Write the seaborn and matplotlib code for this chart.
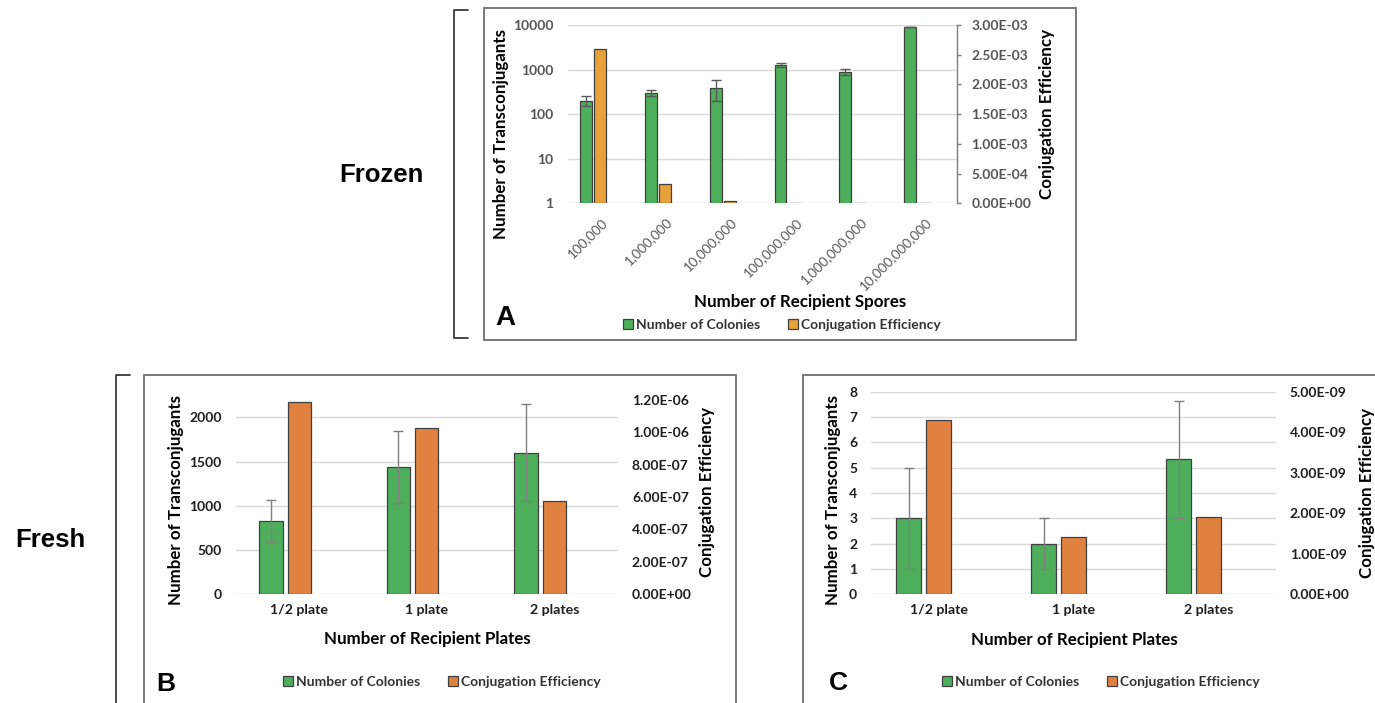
import numpy as np
import pandas as pd
import matplotlib
matplotlib.use("Agg")
import matplotlib.pyplot as plt
import matplotlib.transforms as mtransforms
from matplotlib.patches import Patch, Rectangle
from matplotlib.lines import Line2D
from matplotlib.ticker import FixedLocator, FuncFormatter, NullLocator
import seaborn as sns

sns.set_style("white")
plt.rcParams["font.family"] = ["Lato", "DejaVu Sans"]

# ---- Frozen spores (panel A) ----
spore_labels = ["100,000", "1,000,000", "10,000,000", "100,000,000",
                "1,000,000,000", "10,000,000,000"]
frozen_colonies = [200, 300, 390, 1270, 895, 8900]
frozen_colonies_sd = [50, 50, 195, 130, 140, 100]
frozen_efficiency = [2.59e-3, 3.3e-4, 3.9e-5, 1.27e-5, 9.0e-7, 8.9e-7]

# ---- Fresh spores, panel B ----
plate_labels = ["1/2 plate", "1 plate", "2 plates"]
fresh_b_colonies = [830, 1435, 1600]
fresh_b_colonies_sd = [240, 405, 550]
fresh_b_efficiency = [1.187e-6, 1.027e-6, 5.73e-7]

# ---- Fresh spores, panel C ----
fresh_c_colonies = [3.0, 2.0, 5.33]
fresh_c_colonies_sd = [2.0, 1.0, 2.32]
fresh_c_efficiency = [4.29e-9, 1.42e-9, 1.91e-9]

SERIES = ["Number of Colonies", "Conjugation Efficiency", "spacer"]
GREEN = "#4DAE5B"
ORANGE_A = "#E9A23B"
ORANGE_BC = "#E0813F"
EDGE = "#404040"
TITLE_SIZE = 12.2

W, H = 1375, 703
fig = plt.figure(figsize=(W / 100, H / 100), dpi=100)
fig.patch.set_facecolor("white")


def px_rect(x0, y0, x1, y1):
    """Pixel box measured from the top-left corner -> figure fraction rect."""
    return [x0 / W, 1 - y1 / H, (x1 - x0) / W, (y1 - y0) / H]


def sci(v, _pos=None):
    return f"{v:.2E}"


def draw_panel(rect, groups, colonies, colonies_sd, efficiency, orange,
               left_ticks, left_lim, right_ticks, right_lim, log=False,
               tick_color="#1e1e1e", err_color="#7f7f7f"):
    ax = fig.add_axes(rect)
    pal = {SERIES[0]: GREEN, SERIES[1]: orange, SERIES[2]: "white"}
    df_col = pd.DataFrame({"group": groups, "series": SERIES[0], "value": colonies})
    df_eff = pd.DataFrame({"group": groups, "series": SERIES[1], "value": efficiency})

    common = dict(x="group", y="value", hue="series", order=groups,
                  hue_order=SERIES, palette=pal, dodge=True, width=0.666,
                  gap=0.17, saturation=1, errorbar=None, edgecolor=EDGE,
                  linewidth=0.9, legend=False)
    sns.barplot(data=df_col, ax=ax, **common)
    xs = [p.get_x() + p.get_width() / 2 for p in ax.patches]
    ax.errorbar(xs, colonies, yerr=colonies_sd, fmt="none", ecolor=err_color,
                elinewidth=1.0, capsize=3.5, capthick=1.0, zorder=4)

    ax2 = ax.twinx()
    sns.barplot(data=df_eff, ax=ax2, **common)

    if log:
        ax.set_yscale("log")
        ax.yaxis.set_minor_locator(NullLocator())
    ax.set_ylim(*left_lim)
    ax.yaxis.set_major_locator(FixedLocator(left_ticks))
    ax.yaxis.set_major_formatter(FuncFormatter(lambda v, p: f"{v:g}" if v < 1e5 else f"{int(v)}"))
    ax2.set_ylim(*right_lim)
    ax2.yaxis.set_major_locator(FixedLocator(right_ticks))
    ax2.yaxis.set_major_formatter(FuncFormatter(sci))
    for a in (ax, ax2):
        a.set_xlim(-0.5, len(groups) - 0.5)
        for s in a.spines.values():
            s.set_visible(False)
        a.set_xlabel("")
        a.set_ylabel("")
    ax.yaxis.grid(True, color="#d9d9d9", linewidth=1.0)
    ax.xaxis.grid(False)
    ax.set_axisbelow(True)
    ax.tick_params(axis="y", length=0, pad=10, labelsize=10, labelcolor=tick_color)
    ax2.tick_params(axis="y", length=0, pad=10, labelsize=10, labelcolor=tick_color)
    ax.tick_params(axis="x", length=0, pad=7, labelsize=10.2, labelcolor=tick_color)
    for lab in ax.get_yticklabels() + ax2.get_yticklabels() + ax.get_xticklabels():
        lab.set_fontweight("bold")
    return ax, ax2


def titles(ax, ax2, xlabel, xpos, ylpos, yrpos):
    ax.set_xlabel(xlabel, fontsize=TITLE_SIZE, fontweight="bold", color="black")
    ax.xaxis.set_label_coords(*xpos)
    ax.xaxis.label.set_va("center")
    ax.set_ylabel("Number of Transconjugants", fontsize=TITLE_SIZE, fontweight="bold", color="black")
    ax.yaxis.set_label_coords(*ylpos)
    ax.yaxis.label.set_va("center")
    ax2.set_ylabel("Conjugation Efficiency", fontsize=TITLE_SIZE, fontweight="bold", color="black")
    ax2.yaxis.set_label_coords(*yrpos)
    ax2.yaxis.label.set_va("center")


def legend(orange, cx, cy):
    handles = [Patch(facecolor=GREEN, edgecolor=EDGE, linewidth=0.9, label=SERIES[0]),
               Patch(facecolor=orange, edgecolor=EDGE, linewidth=0.9, label=SERIES[1])]
    leg = fig.legend(handles=handles, loc="center", bbox_to_anchor=(cx / W, 1 - cy / H),
                     ncol=2, frameon=False, handlelength=0.7, handleheight=0.7,
                     handletextpad=0.25, columnspacing=2.0,
                     prop={"size": 10, "weight": "bold"})
    for t in leg.get_texts():
        t.set_color("#333333")


# ---------------- Panel A ----------------
axA, axA2 = draw_panel(px_rect(568, 25, 957, 203.3), spore_labels, frozen_colonies,
                       frozen_colonies_sd, frozen_efficiency, ORANGE_A,
                       [1, 10, 100, 1000, 10000], (1, 10000),
                       np.linspace(0, 3e-3, 7), (0, 3e-3), log=True,
                       tick_color="#555555", err_color="#595959")
axA2.spines["right"].set_visible(True)
axA2.spines["right"].set_color("#7f7f7f")
axA2.spines["right"].set_linewidth(1.0)
axA2.tick_params(axis="y", length=3.2, width=1.0, color="#7f7f7f", direction="out", pad=7)
axA.tick_params(axis="y", pad=10.5)
axA.tick_params(axis="x", pad=12, labelsize=9.8, labelcolor="#595959")
shift = mtransforms.ScaledTranslation(5 / 100, 0, fig.dpi_scale_trans)
for lab in axA.get_xticklabels():
    lab.set_rotation(45)
    lab.set_ha("right")
    lab.set_va("center")
    lab.set_rotation_mode("anchor")
    lab.set_fontweight("normal")
    lab.set_transform(lab.get_transform() + shift)
titles(axA, axA2, "Number of Recipient Spores", (0.598, -0.5536), (-0.172, 0.389), (1.2306, 0.501))
legend(ORANGE_A, 782, 325)

# ---------------- Panel B ----------------
axB, axB2 = draw_panel(px_rect(235.5, 399.6, 618, 594.3), plate_labels, fresh_b_colonies,
                       fresh_b_colonies_sd, fresh_b_efficiency, ORANGE_BC,
                       [0, 500, 1000, 1500, 2000], (0, 2200),
                       np.linspace(0, 1.2e-6, 7), (0, 1.2e-6))
titles(axB, axB2, "Number of Recipient Plates", (0.5007, -0.2296), (-0.1556, 0.484), (1.232, 0.523))
legend(ORANGE_BC, 442, 682)

# ---------------- Panel C ----------------
axC, axC2 = draw_panel(px_rect(871, 391.7, 1276, 594.3), plate_labels, fresh_c_colonies,
                       fresh_c_colonies_sd, fresh_c_efficiency, ORANGE_BC,
                       list(range(0, 9)), (0, 8),
                       np.linspace(0, 5e-9, 6), (0, 5e-9))
titles(axC, axC2, "Number of Recipient Plates", (0.501, -0.2256), (-0.0931, 0.4655), (1.224, 0.5))
legend(ORANGE_BC, 1101, 682)

# ---------------- Frames, brackets and labels ----------------
def frame(x0, y0, x1, y1):
    fig.add_artist(Rectangle((x0 / W, 1 - y1 / H), (x1 - x0) / W, (y1 - y0) / H,
                             transform=fig.transFigure, fill=False,
                             edgecolor="#7a7a7a", linewidth=1.4))


def bracket(x, y0, y1, stub, bottom_stub=True):
    xs = [stub, x, x] + ([stub] if bottom_stub else [])
    ys = [y0, y0, y1] + ([y1] if bottom_stub else [])
    fig.add_artist(Line2D([v / W for v in xs], [1 - v / H for v in ys],
                          transform=fig.transFigure, color="#3a3a3a", linewidth=1.3))


frame(484, 8, 1076, 340)
frame(144.3, 375, 735.7, 712)
frame(803.3, 375, 1385, 712)
bracket(454, 10, 338, 468)
bracket(115.7, 375, 712, 130, bottom_stub=False)

big = dict(family=["Liberation Sans", "DejaVu Sans"], fontweight="bold", color="black",
           ha="center", va="center")
fig.text(381 / W, 1 - 175 / H, "Frozen", fontsize=18.5, **big)
fig.text(50.5 / W, 1 - 540 / H, "Fresh", fontsize=18.5, **big)
fig.text(505 / W, 1 - 318 / H, "A", fontsize=20, **big)
fig.text(166 / W, 1 - 684 / H, "B", fontsize=19, **big)
fig.text(838.5 / W, 1 - 683 / H, "C", fontsize=19, **big)

fig.savefig("out.png", dpi=100, facecolor="white")
